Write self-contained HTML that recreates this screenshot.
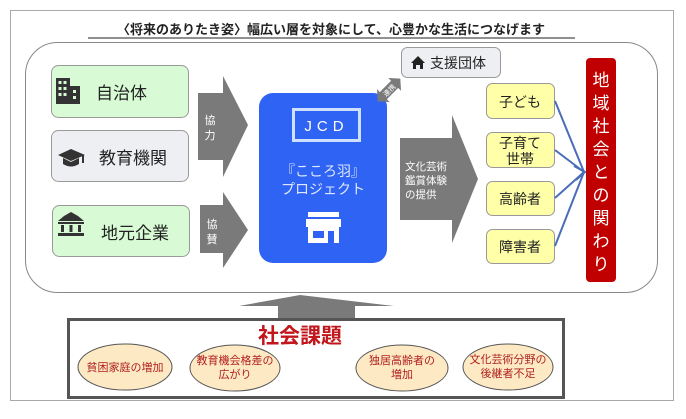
<!DOCTYPE html>
<html><head><meta charset="utf-8"><style>
body{margin:0;background:#fff}
svg text{font-family:"Liberation Sans","Noto Sans CJK JP",sans-serif}
</style></head><body>
<svg width="686" height="414" viewBox="0 0 686 414" xmlns="http://www.w3.org/2000/svg">
<rect x="10.5" y="10.5" width="663" height="390" fill="#fff" stroke="#aaa"/>
<text x="331" y="34" text-anchor="middle" font-size="13" font-weight="bold" fill="#222">〈将来のありたき姿〉幅広い層を対象にして、心豊かな生活につなげます</text>
<line x1="88" y1="38" x2="575" y2="38" stroke="#222" stroke-width="1"/>
<rect x="25.5" y="42.5" width="632" height="250" rx="32" fill="#fff" stroke="#888"/>
<!-- left boxes -->
<rect x="51.5" y="65.5" width="137" height="52" rx="7" fill="#d8fad4" stroke="#9a9a9a"/>
<rect x="51.5" y="130.5" width="137" height="51" rx="7" fill="#eeeff2" stroke="#9a9a9a"/>
<rect x="52.5" y="205.5" width="137" height="51" rx="7" fill="#d8fad4" stroke="#9a9a9a"/>
<g fill="#333">
<rect x="56" y="78" width="14" height="26"/><rect x="70" y="86" width="10" height="18"/>
<g fill="#d8fad4"><rect x="58.5" y="81" width="3" height="3"/><rect x="63.5" y="81" width="3" height="3"/><rect x="58.5" y="87" width="3" height="3"/><rect x="63.5" y="87" width="3" height="3"/><rect x="58.5" y="93" width="3" height="3"/><rect x="63.5" y="93" width="3" height="3"/><rect x="73" y="90" width="3" height="3"/><rect x="73" y="96" width="3" height="3"/></g>
<path d="M58 155 L71 149 L85 155 L71 161 Z"/><path d="M63 158 L63 164 Q71 169 79 164 L79 158 L71 162 Z"/><rect x="82" y="155" width="2" height="8"/>
<path d="M64 216 L71 212 L78 216 L84 221 L58 221 Z"/><rect x="58" y="222" width="26" height="2"/><rect x="61" y="225" width="3" height="7"/><rect x="69.5" y="225" width="3" height="7"/><rect x="78" y="225" width="3" height="7"/><rect x="58" y="233" width="26" height="3"/>
</g>
<text x="96" y="99" font-size="17" fill="#222">自治体</text>
<text x="99" y="164" font-size="17" fill="#222">教育機関</text>
<text x="101" y="239" font-size="17" fill="#222">地元企業</text>
<!-- arrows -->
<path d="M198 93 H223 V76 L248 125 L223 177 V160 H198 Z" fill="#7a7a7a"/>
<text x="210" y="124" text-anchor="middle" font-size="11" fill="#fff">協</text>
<text x="210" y="139" text-anchor="middle" font-size="11" fill="#fff">力</text>
<path d="M200 205 H223 V192 L248 230 L223 268 V253 H200 Z" fill="#7a7a7a"/>
<text x="212" y="228" text-anchor="middle" font-size="11" fill="#fff">協</text>
<text x="212" y="243" text-anchor="middle" font-size="11" fill="#fff">賛</text>
<!-- blue box -->
<rect x="259" y="93" width="128" height="170" rx="14" fill="#2f63f4"/>
<rect x="293.5" y="109.5" width="66" height="31" fill="none" stroke="#cfe0ff" stroke-width="3"/>
<text x="326.5" y="131" text-anchor="middle" font-size="15" fill="#fff" letter-spacing="5">JCD</text>
<text x="323" y="176" text-anchor="middle" font-size="14" fill="#dfe8ff">『こころ羽』</text>
<text x="323" y="194" text-anchor="middle" font-size="14" fill="#dfe8ff">プロジェクト</text>
<g fill="#fff"><rect x="308" y="212" width="31" height="5"/><path d="M306 219 H341 V227 H306 Z"/><rect x="308" y="227" width="31" height="16"/></g>
<rect x="313" y="231" width="11" height="7" fill="#2f63f4"/><rect x="328" y="231" width="6" height="12" fill="#2f63f4"/>
<!-- connect double arrow -->
<g transform="translate(389,90) rotate(-45)">
<path d="M-16 0 L-8 -9 V-5 H8 V-9 L16 0 L8 9 V5 H-8 V9 Z" fill="#7a7a7a"/>
<text x="0" y="3" text-anchor="middle" font-size="7" fill="#fff">連携</text>
</g>
<rect x="401.5" y="47.5" width="99" height="30" rx="6" fill="#eeeff2" stroke="#9a9a9a"/>
<path d="M411 63 L418 56 L425 63 H423 V69 H420 V65 H416 V69 H413 V63 Z" fill="#222"/>
<text x="430" y="68" font-size="14" fill="#222">支援団体</text>
<!-- culture arrow -->
<path d="M400 138 H452 V115 L478 179 L452 243 V220 H400 Z" fill="#7a7a7a"/>
<text x="405" y="170" font-size="10.5" fill="#fff">文化芸術</text>
<text x="405" y="184" font-size="10.5" fill="#fff">鑑賞体験</text>
<text x="405" y="198" font-size="10.5" fill="#fff">の提供</text>
<!-- yellow -->
<g fill="#ffffa8" stroke="#999">
<rect x="486.5" y="83.5" width="68" height="35" rx="6"/>
<rect x="486.5" y="132.5" width="68" height="35" rx="6"/>
<rect x="486.5" y="181.5" width="68" height="34" rx="6"/>
<rect x="486.5" y="229.5" width="68" height="34" rx="6"/>
</g>
<g font-size="14" fill="#222" text-anchor="middle">
<text x="520" y="107">子ども</text>
<text x="520" y="148">子育て</text>
<text x="520" y="164">世帯</text>
<text x="520" y="204">高齢者</text>
<text x="520" y="252">障害者</text>
</g>
<g stroke="#4a6db8" stroke-width="2" fill="none">
<line x1="555" y1="101" x2="584" y2="172"/>
<line x1="555" y1="150" x2="584" y2="172"/>
<line x1="555" y1="198" x2="584" y2="172"/>
<line x1="555" y1="246" x2="584" y2="172"/>
<path d="M574 166 L585 172 L576 180"/>
</g>
<rect x="586" y="58" width="30" height="224" rx="4" fill="#c00000"/>
<g font-size="17" fill="#fff" text-anchor="middle">
<text x="601" y="86">地</text><text x="601" y="109">域</text><text x="601" y="132">社</text><text x="601" y="155">会</text><text x="601" y="178">と</text><text x="601" y="201">の</text><text x="601" y="224">関</text><text x="601" y="247">わ</text><text x="601" y="270">り</text>
</g>
<!-- bottom -->
<path d="M278 318 V306 H239 L300 295 L394 306 H355 V318 Z" fill="#7a7a7a"/>
<rect x="68.5" y="319.5" width="495" height="78" fill="#fff" stroke="#555" stroke-width="3"/>
<text x="300" y="343" text-anchor="middle" font-size="21" font-weight="bold" fill="#c0161c">社会課題</text>
<g fill="#fde9c4" stroke="#555">
<ellipse cx="125" cy="367" rx="47" ry="23"/>
<ellipse cx="235" cy="368" rx="45" ry="23"/>
<ellipse cx="402" cy="368" rx="46" ry="23"/>
<ellipse cx="508" cy="367" rx="45" ry="23"/>
</g>
<g font-size="11" fill="#b02020" text-anchor="middle">
<text x="125" y="371">貧困家庭の増加</text>
<text x="235" y="364">教育機会格差の</text><text x="235" y="378">広がり</text>
<text x="402" y="364">独居高齢者の</text><text x="402" y="378">増加</text>
<text x="508" y="363">文化芸術分野の</text><text x="508" y="377">後継者不足</text>
</g>
</svg>
</body></html>
